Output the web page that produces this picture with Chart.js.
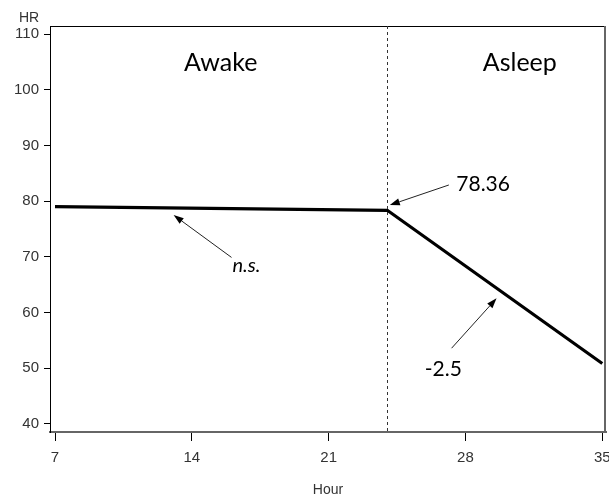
<!DOCTYPE html>
<html><head><meta charset="utf-8">
<script src="https://cdn.jsdelivr.net/npm/chart.js@4"></script>
<style>html,body{margin:0;padding:0;background:#fff}#wrap{width:609px;height:498px}</style>
</head><body><div id="wrap"><canvas id="c" width="609" height="498"></canvas></div>
<script>
// Heart rate across the day: flat while awake, falling after sleep onset
const hours = [7, 24, 35];
const heartRate = [79.0, 78.36, 50.86];
const xTickValues = [7, 14, 21, 28, 35];
const yTickValues = [40, 50, 60, 70, 80, 90, 100, 110];
const sleepOnset = 24;
const phaseLabels = ['Awake', 'Asleep'];
const phaseLabelHours = [15.48, 30.78];
const phaseLabelLevel = 103.4;

// Callouts: text anchor (left, baseline) and arrow (tail -> head) in data units
const callouts = [
  { text: '78.36', italic: false, size: 21, tx: 27.53, ty: 81.75, from: [27.15, 82.9], to: [24.13, 79.3] },
  { text: 'n.s.',  italic: true,  size: 20, tx: 16.08, ty: 67.35, from: [16.03, 69.9], to: [13.07, 77.5] },
  { text: '-2.5',  italic: false, size: 21, tx: 25.92, ty: 48.7,  from: [27.29, 53.6], to: [29.59, 62.55] }
];

const tickFont = { family: 'Liberation Sans, Arial, sans-serif', size: 15 };
const tickColor = '#333';
const noteFamily = 'Lato, "Open Sans", sans-serif';

const decorations = {
  id: 'decorations',
  afterDraw(chart) {
    const { ctx, chartArea: a, scales: { x, y } } = chart;
    ctx.save();
    // close the frame on top and right
    ctx.strokeStyle = '#000';
    ctx.lineWidth = 1;
    ctx.beginPath();
    ctx.moveTo(a.left, a.top + 0.5);
    ctx.lineTo(a.right, a.top + 0.5);
    ctx.stroke();
    ctx.strokeStyle = '#666';
    ctx.lineWidth = 2;
    ctx.beginPath();
    ctx.moveTo(a.right - 1, a.top);
    ctx.lineTo(a.right - 1, a.bottom);
    ctx.stroke();

    // sleep onset marker
    const sx = Math.round(x.getPixelForValue(sleepOnset)) + 0.5;
    ctx.setLineDash([3, 3]);
    ctx.strokeStyle = '#333';
    ctx.lineWidth = 1;
    ctx.beginPath();
    ctx.moveTo(sx, a.top);
    ctx.lineTo(sx, a.bottom);
    ctx.stroke();
    ctx.setLineDash([]);

    // phase labels
    ctx.fillStyle = '#000';
    ctx.textAlign = 'center';
    ctx.textBaseline = 'alphabetic';
    ctx.font = '25px ' + noteFamily;
    phaseLabels.forEach((t, i) => {
      ctx.fillText(t, x.getPixelForValue(phaseLabelHours[i]), y.getPixelForValue(phaseLabelLevel));
    });

    // callouts with arrows
    callouts.forEach(c => {
      ctx.font = (c.italic ? 'italic ' : '') + c.size + 'px ' + noteFamily;
      ctx.textAlign = 'left';
      ctx.fillStyle = '#000';
      ctx.fillText(c.text, x.getPixelForValue(c.tx), y.getPixelForValue(c.ty));
      const x0 = x.getPixelForValue(c.from[0]), y0 = y.getPixelForValue(c.from[1]);
      const x1 = x.getPixelForValue(c.to[0]), y1 = y.getPixelForValue(c.to[1]);
      const ang = Math.atan2(y1 - y0, x1 - x0);
      const len = 10, wid = 3.5;
      const bx = x1 - len * Math.cos(ang), by = y1 - len * Math.sin(ang);
      ctx.strokeStyle = '#222';
      ctx.lineWidth = 1;
      ctx.beginPath();
      ctx.moveTo(x0, y0);
      ctx.lineTo(bx, by);
      ctx.stroke();
      ctx.beginPath();
      ctx.moveTo(x1, y1);
      ctx.lineTo(bx + wid * Math.sin(ang), by - wid * Math.cos(ang));
      ctx.lineTo(bx - wid * Math.sin(ang), by + wid * Math.cos(ang));
      ctx.closePath();
      ctx.fill();
    });

    // axis titles
    ctx.fillStyle = tickColor;
    ctx.font = '14px ' + tickFont.family;
    ctx.textAlign = 'center';
    ctx.textBaseline = 'middle';
    ctx.fillText('HR', 29, 18);
    ctx.fillText('Hour', (a.left + a.right) / 2, 490);
    ctx.restore();
  }
};

new Chart(document.getElementById('c'), {
  type: 'scatter',
  data: {
    datasets: [{
      data: hours.map((h, i) => ({ x: h, y: heartRate[i] })),
      showLine: true,
      borderColor: '#000',
      borderWidth: 3.2,
      pointRadius: 0,
      tension: 0,
      clip: false
    }]
  },
  options: {
    responsive: false,
    animation: false,
    devicePixelRatio: 1,
    layout: { padding: { top: 26, right: 3, left: 0, bottom: 0 } },
    plugins: { legend: { display: false }, tooltip: { enabled: false } },
    scales: {
      x: {
        type: 'linear',
        min: 6.744,
        max: 35.19,
        afterBuildTicks: s => { s.ticks = xTickValues.map(v => ({ value: v })); },
        afterFit: s => { s.height = 66; s.paddingLeft = 0; s.paddingRight = 0; },
        grid: { drawOnChartArea: false, drawTicks: true, tickLength: 9, color: '#000' },
        border: { display: true, color: '#666', width: 2 },
        ticks: { font: tickFont, color: tickColor, padding: 8, maxRotation: 0, autoSkip: false }
      },
      y: {
        type: 'linear',
        min: 38.56,
        max: 111.44,
        afterBuildTicks: s => { s.ticks = yTickValues.map(v => ({ value: v })); },
        afterFit: s => { s.width = 50; s.paddingTop = 0; s.paddingBottom = 0; },
        grid: { drawOnChartArea: false, drawTicks: true, tickLength: 6, color: '#000' },
        border: { display: true, color: '#000', width: 1 },
        ticks: { font: tickFont, color: tickColor, padding: 5 }
      }
    }
  },
  plugins: [decorations]
});
</script>
</body></html>
